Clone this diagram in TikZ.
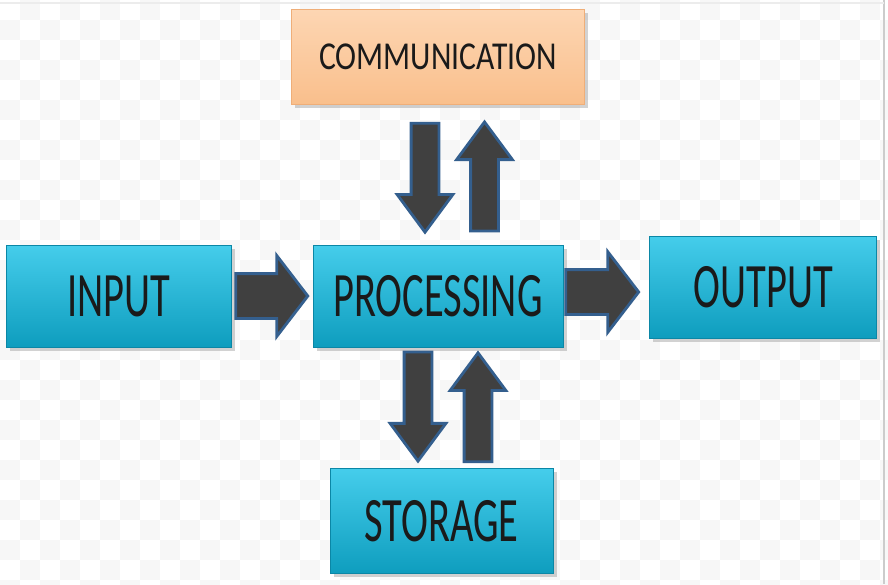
\documentclass[tikz,border=0pt]{standalone}
\usepackage{fontspec}
\usepackage{xcolor}
\usepackage{tikz}
\usetikzlibrary{shapes.arrows, positioning, calc, shadows}
\newfontfamily\boxfont[FakeStretch=0.64]{Carlito}
\newfontfamily\commfont[FakeStretch=0.8]{Carlito}
\definecolor{boxtop}{HTML}{45CDEB}
\definecolor{boxbot}{HTML}{0E9DBE}
\definecolor{boxedge}{HTML}{0B87A6}
\definecolor{peachtop}{HTML}{FDD6B3}
\definecolor{peachbot}{HTML}{F9BF8C}
\definecolor{peachedge}{HTML}{EFAE78}
\definecolor{arrowfill}{HTML}{404040}
\definecolor{arrowedge}{HTML}{345F8E}
\definecolor{labeltext}{HTML}{1A1A1A}

\begin{document}
\begin{tikzpicture}[
    node distance=1.62cm,
    unitbox/.style={rectangle, draw=boxedge, line width=0.5pt, top color=boxtop, bottom color=boxbot, text=labeltext, minimum width=4.5cm, minimum height=2.04cm, font=\boxfont\fontsize{36}{40}\selectfont, drop shadow={shadow xshift=2pt, shadow yshift=-2pt, opacity=0.35}},
    commbox/.style={rectangle, draw=peachedge, line width=0.5pt, top color=peachtop, bottom color=peachbot, text=labeltext, minimum width=5.86cm, minimum height=1.9cm, font=\commfont\fontsize{22.5}{26}\selectfont, drop shadow={shadow xshift=2pt, shadow yshift=-2pt, opacity=0.35}},
    flatarrow/.style={single arrow, draw=arrowedge, line width=1.6pt, fill=arrowfill, inner xsep=0pt, inner ysep=0.42cm, single arrow head extend=0.36cm, single arrow tip angle=105, minimum height=1.44cm, anchor=tip},
    tallarrow/.style={single arrow, draw=arrowedge, line width=1.6pt, fill=arrowfill, inner xsep=0pt, inner ysep=0.25cm, single arrow head extend=0.28cm, single arrow tip angle=73, minimum height=2.18cm, anchor=tip}
]
\useasboundingbox (0,0) rectangle (17.76,-11.68);
\fill[white] (0,0) rectangle (17.76,-11.68);
\foreach \i in {0,...,44}
  \foreach \j in {0,...,29}
    {\pgfmathparse{int(mod(\i+\j,2))}
     \ifnum\pgfmathresult=1 \fill[gray!6] (0.4*\i,-0.4*\j) rectangle ++(0.4,-0.4);\fi}
\draw[gray!40, line width=1pt] (17.68,0) -- (17.68,-11.68);
\draw[gray!15, line width=0.6pt] (0,-0.06) -- (17.68,-0.06);

\node[unitbox, minimum width=5cm] (proc) at (8.76,-5.92) {PROCESSING};
\node[unitbox] (input) [left=of proc] {INPUT};
\node[unitbox, minimum width=4.54cm] (output) [right=1.72cm of proc, yshift=0.18cm] {OUTPUT};
\node[commbox] (comm) [above=2.8cm of proc] {COMMUNICATION};
\node[unitbox, minimum width=4.46cm, minimum height=2.1cm] (store) [below=2.42cm of proc, xshift=0.07cm] {STORAGE};

\node[flatarrow] (in2proc) at ($(proc.west)+(-0.06,0)$) {};
\node[flatarrow, minimum height=1.46cm] (proc2out) at ($(output.west)+(-0.18,-0.1)$) {};
\node[tallarrow, rotate=-90] (comm2proc) at ($(proc.north)+(-0.26,0.2)$) {};
\node[tallarrow, rotate=90] (proc2comm) at ($(comm.south)+(0.93,-0.3)$) {};
\node[tallarrow, rotate=-90] (proc2store) at ($(store.north)+(-0.47,0.1)$) {};
\node[tallarrow, rotate=90] (store2proc) at ($(proc.south)+(0.8,-0.06)$) {};
\end{tikzpicture}
\end{document}
